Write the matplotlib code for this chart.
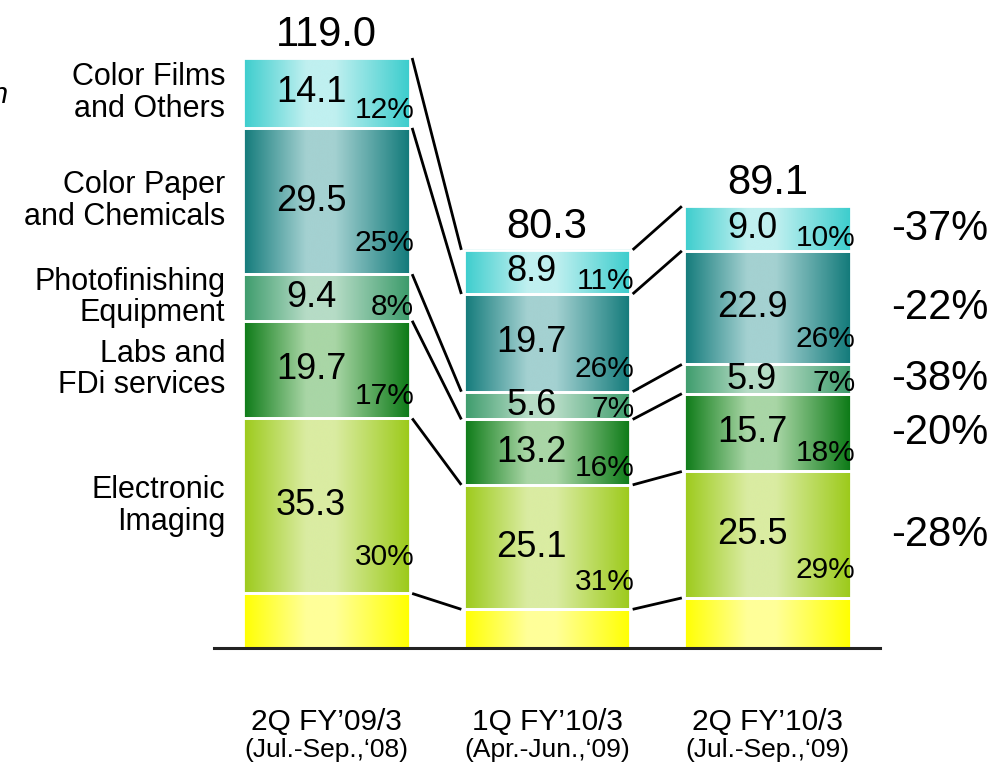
import numpy as np
import matplotlib
matplotlib.use("Agg")
import matplotlib.pyplot as plt
from matplotlib.colors import LinearSegmentedColormap

plt.rcParams['font.family'] = ['Liberation Sans', 'DejaVu Sans']

# quarters along the x axis
periods = ["2Q FY\u201909/3", "1Q FY\u201910/3", "2Q FY\u201910/3"]
period_ranges = ["(Jul.-Sep.,\u201808)", "(Apr.-Jun.,\u201809)", "(Jul.-Sep.,\u201809)"]

# sales by segment (billion yen), bottom to top
totals = [119.0, 80.3, 89.1]
electronic = [35.3, 25.1, 25.5]
labs = [19.7, 13.2, 15.7]
photofinishing = [9.4, 5.6, 5.9]
paper = [29.5, 19.7, 22.9]
films = [14.1, 8.9, 9.0]

# share of total (%)
electronic_pct = [30, 31, 29]
labs_pct = [17, 16, 18]
photofinishing_pct = [8, 7, 7]
paper_pct = [25, 26, 26]
films_pct = [12, 11, 10]

segment_names = ["Electronic\nImaging", "Labs and\nFDi services",
                 "Photofinishing\nEquipment", "Color Paper\nand Chemicals",
                 "Color Films\nand Others"]
# year-on-year change, bottom to top
changes = ["-28%", "-20%", "-38%", "-22%", "-37%"]

# remainder at the bottom of each bar
named = [electronic, labs, photofinishing, paper, films]
other = [round(t - sum(s[i] for s in named), 1) for i, t in enumerate(totals)]

stack = [other, electronic, labs, photofinishing, paper, films]
shares = [None, electronic_pct, labs_pct, photofinishing_pct, paper_pct, films_pct]

# (edge colour, centre colour) for the horizontal gradients
fills = [
    ("#ffff00", "#ffff99"),
    ("#9cca1a", "#daeca2"),
    ("#0c7a16", "#a9d6a6"),
    ("#3c9b6b", "#b6dcc6"),
    ("#127a7a", "#a4d1d1"),
    ("#3ccdcd", "#c0f0f0"),
]

fig = plt.figure(figsize=(9.92, 7.64), dpi=100)
ax = fig.add_axes([0, 0, 1, 1])

x = np.arange(len(totals))
width = 0.757
grad = np.linspace(0, 1, 256).reshape(1, -1)

tops = []
for i, xi in enumerate(x):
    bottom = 0.0
    bar_tops = []
    for k, seg in enumerate(stack):
        v = seg[i]
        edge, light = fills[k]
        cmap = LinearSegmentedColormap.from_list(
            f"seg{k}", [(0, edge), (0.38, light), (0.55, light), (1, edge)])
        ax.imshow(grad, cmap=cmap, aspect='auto', interpolation='bicubic',
                  extent=(xi - width / 2, xi + width / 2, bottom, bottom + v),
                  zorder=1)
        ax.bar(xi, v, width, bottom=bottom, facecolor='none',
               edgecolor='white', linewidth=2, zorder=2)
        if shares[k] is not None:
            ax.text(xi - 0.07, bottom + v / 2, f"{v:.1f}", ha='center',
                    va='center', fontsize=26, zorder=4)
            ax.text(xi + width / 2 + 0.02, bottom + 0.18 * v + 1.0,
                    f"{shares[k][i]}%", ha='right', va='center', fontsize=21.5,
                    zorder=4)
        bottom += v
        bar_tops.append(bottom)
    tops.append(bar_tops)
    ax.text(xi, totals[i] + 2.4, f"{totals[i]:.1f}", ha='center',
            va='baseline', fontsize=30)

# connectors between matching segment tops of neighbouring bars
for i in range(len(x) - 1):
    for a, b in zip(tops[i], tops[i + 1]):
        ax.plot([x[i] + width / 2 + 0.01, x[i + 1] - width / 2 - 0.01],
                [a, b], color='black', linewidth=2, zorder=3,
                solid_capstyle='butt')

# segment names beside the first bar
for k in range(1, len(stack)):
    lo = tops[0][k - 1]
    hi = tops[0][k]
    ax.text(x[0] - width / 2 - 0.08, (lo + hi) / 2, segment_names[k - 1],
            ha='right', va='center', fontsize=22, linespacing=1.05)

# year-on-year change beside the last bar
for k in range(1, len(stack)):
    lo = tops[-1][k - 1]
    hi = tops[-1][k]
    ax.text(x[-1] + width / 2 + 0.18, (lo + hi) / 2, changes[k - 1],
            ha='left', va='center', fontsize=30)

# baseline
ax.plot([x[0] - width / 2 - 0.13, x[-1] + width / 2 + 0.13], [0, 0],
        color='#222222', linewidth=2.2, zorder=3)

for xi, p, r in zip(x, periods, period_ranges):
    ax.text(xi, -16.5, p, ha='center', va='baseline', fontsize=21.5)
    ax.text(xi, -22.0, r, ha='center', va='baseline', fontsize=19)

ax.text(-1.445, 111.5, "Billion yen", ha='right', va='center', fontsize=21,
        style='italic')

ax.set_xlim(-326.5 / 220.5, (992 - 326.5) / 220.5)
ax.set_ylim(-(764 - 648) / 4.958, 648 / 4.958)
ax.axis('off')

fig.savefig("out.png", dpi=100)
